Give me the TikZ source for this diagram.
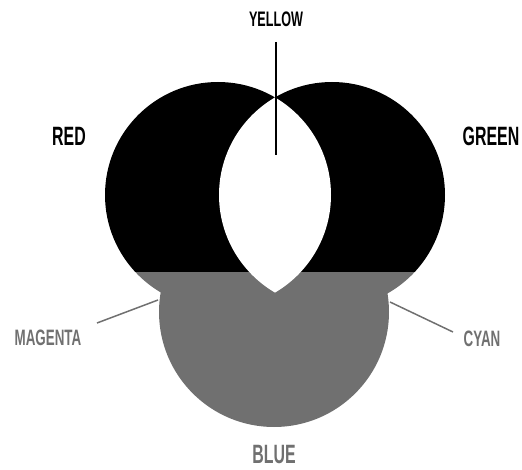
\documentclass[tikz,border=0pt]{standalone}
\usepackage{fontspec}
\newfontfamily\lblfont[FakeStretch=0.6]{Liberation Sans}
\usepackage{tikz}
\usetikzlibrary{positioning, calc}

\definecolor{mixgray}{HTML}{707070}

\begin{document}
\begin{tikzpicture}[x=1pt, y=-1pt,
    lbl/.style={font=\lblfont\bfseries\fontsize{26.5}{26.5}\selectfont, inner sep=0pt},
    small lbl/.style={font=\lblfont\bfseries\fontsize{22.3}{22.3}\selectfont, inner sep=0pt, text=mixgray},
    leader/.style={mixgray, line width=1.5pt}]
  \useasboundingbox (0,0) rectangle (522,470);
  % circle centres (pixel units, y downwards)
  \coordinate (r) at (218,195);
  \coordinate (g) at (332,195);
  \coordinate (b) at (274,312);
  % lower part: everything below y=272 is grey
  \begin{scope}
    \clip (0,272) rectangle (522,470);
    \fill[mixgray] (r) circle (113) (g) circle (113) (b) circle (115);
  \end{scope}
  % upper part: red and green in black
  \begin{scope}
    \clip (0,0) rectangle (522,272);
    \fill[black] (r) circle (113) (g) circle (113);
  \end{scope}
  % overlap of red and green stays white
  \begin{scope}
    \clip (r) circle (113);
    \fill[white] (g) circle (113);
  \end{scope}
  % Labels
  \node[lbl] (red) at (69,136) {RED};
  \node[lbl] (green) at (491,136) {GREEN};
  \node[lbl, font=\lblfont\bfseries\fontsize{21}{21}\selectfont] (yellow) at (276,19) {YELLOW};
  \node[small lbl] (magenta) at (48,338) {MAGENTA};
  \node[small lbl] (cyan) at (482,339) {CYAN};
  \node[lbl, text=mixgray] (blue) at (274,455) {BLUE};
  % Leader lines
  \coordinate (ytop) at (276,42);
  \coordinate (ybot) at (276,155);
  \draw[line width=2pt] (ytop) -- (ybot);
  \coordinate (mstart) at (158,300);
  \coordinate (mend) at (97,323);
  \draw[leader] (mstart) -- (mend);
  \coordinate (cstart) at (390,302);
  \coordinate (cend) at (453,332);
  \draw[leader] (cstart) -- (cend);
\end{tikzpicture}
\end{document}
